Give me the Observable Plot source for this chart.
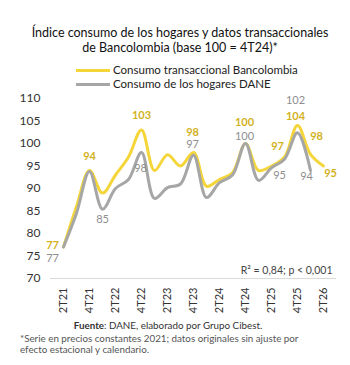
<!DOCTYPE html>
<html><head><meta charset="utf-8">
<script src="https://cdn.jsdelivr.net/npm/d3@7"></script>
<script src="https://cdn.jsdelivr.net/npm/@observablehq/plot@0.6"></script>
<style>
body{margin:0;width:350px;height:365px;background:#fff;font-family:Lato,"Open Sans",sans-serif;position:relative;overflow:hidden;color:#222}
#title{position:absolute;left:5px;width:350px;top:25px;text-align:center;font-size:12.5px;line-height:15px;color:#111}
.sw{position:absolute;left:76px;width:34px;height:3px}
.lt{position:absolute;left:113px;font-size:11.5px;line-height:14px;color:#222;white-space:nowrap}
#chart{position:absolute;left:0;top:90px}
#source{position:absolute;left:0;width:336px;text-align:center;top:319px;font-size:9.8px;line-height:12px;color:#333}
#note{position:absolute;left:20px;top:333px;font-size:9.8px;line-height:11px;color:#555}
</style></head><body>
<div id="title"></div>
<div id="legend"></div>
<div id="chart"></div>
<div id="source"><b>Fuente</b>: DANE, elaborado por Grupo Cibest.</div>
<div id="note">*Serie en precios constantes 2021; datos originales sin ajuste por<br>efecto estacional y calendario.</div>
<script>
const titleLines = ["Índice consumo de los hogares y datos transaccionales", "de Bancolombia (base 100 = 4T24)*"];
const quarters = ["2T21","3T21","4T21","1T22","2T22","3T22","4T22","1T23","2T23","3T23","4T23","1T24","2T24","3T24","4T24","1T25","2T25","3T25","4T25","1T26","2T26"];
const bancolombia = [77,86,94,89,93,97,103,94,97.5,95,98,90.5,92,93.5,100,94,95,97,104,97.6,95];
const dane = [77,84.5,93.8,85.4,90,92,98,87.8,90.2,91,97.4,88,91.3,93,100,91.8,94.6,96.5,102.4,94];
const seriesNames = ["Consumo transaccional Bancolombia","Consumo de los hogares DANE"];
const labeledBancolombia = ["2T21","4T21","4T22","4T23","4T24","3T25","4T25","1T26","2T26"];
const labeledDane = ["2T21","1T22","4T22","4T23","4T24","2T25","4T25","1T26"];
const yTicks = [70,75,80,85,90,95,100,105,110];
const xTickLabels = ["2T21","4T21","2T22","4T22","2T23","4T23","2T24","4T24","2T25","4T25","2T26"];
const statNote = "R² = 0,84; p < 0,001";

// styles
const colors = ["#F4D63A","#A6A6A6"];
const labelColors = ["#D2B21E","#8E8E8E"];
const offY = {"2T21":[-11,-2],"4T21":[0,-14],"4T22":[0,-15],"4T23":[-1,-20],"4T24":[-1,-21],"3T25":[-7,-11],"4T25":[-2,-9],"1T26":[6,-18],"2T26":[7,7]};
const offG = {"2T21":[-11,11],"1T22":[0,10],"4T22":[-1,16],"4T23":[-1,-11],"4T24":[-1,-7],"2T25":[8,8],"4T25":[-2,-32],"1T26":[-4,6]};

document.getElementById("title").innerHTML = titleLines.join("<br>");
const leg = document.getElementById("legend");
seriesNames.forEach((n,i)=>{
  const top = 69 + i*14;
  leg.insertAdjacentHTML("beforeend", `<div class="sw" style="top:${top}px;background:${colors[i]}"></div><div class="lt" style="top:${top-6}px">${n}</div>`);
});

const rowsB = quarters.map((q,i)=>({q, v: bancolombia[i]}));
const rowsD = dane.map((v,i)=>({q: quarters[i], v}));

const labelMarks = [];
labeledBancolombia.forEach(q=>{
  const r = rowsB.find(d=>d.q===q);
  const [dx,dy] = offY[q];
  labelMarks.push(Plot.text([r],{x:"q",y:"v",text:d=>String(Math.round(d.v)),dx,dy,fill:labelColors[0],fontWeight:700,fontSize:11}));
});
labeledDane.forEach(q=>{
  const r = rowsD.find(d=>d.q===q);
  const [dx,dy] = offG[q];
  labelMarks.push(Plot.text([r],{x:"q",y:"v",text:d=>String(Math.round(d.v)),dx,dy,fill:labelColors[1],fontSize:11}));
});

const chart = Plot.plot({
  width: 350,
  height: 225,
  marginLeft: 50,
  marginRight: 14,
  marginTop: 8,
  marginBottom: 37,
  style: {fontFamily: "Lato, 'Open Sans', sans-serif", fontSize: "12px", color: "#333", background: "transparent"},
  x: {type: "point", domain: quarters, padding: 0.5},
  y: {domain: [70, 110]},
  marks: [
    Plot.ruleY([70], {stroke: "#D9D9D9", strokeWidth: 1}),
    Plot.axisY({ticks: yTicks, tickSize: 0, tickPadding: 10, label: null, fontSize: 12, fill: "#333"}),
    Plot.axisX({ticks: xTickLabels, tickRotate: -90, tickSize: 0, tickPadding: 9, label: null, fontSize: 11, fill: "#333"}),
    Plot.line(rowsB, {x: "q", y: "v", stroke: colors[0], strokeWidth: 3, curve: "catmull-rom"}),
    Plot.line(rowsD, {x: "q", y: "v", stroke: colors[1], strokeWidth: 3, curve: "catmull-rom"}),
    ...labelMarks,
    Plot.text([statNote], {frameAnchor: "bottom-right", dx: -4, dy: -8, lineAnchor: "middle", fontSize: 10.5, fill: "#444"})
  ]
});
document.getElementById("chart").appendChild(chart);
</script>
</body></html>
